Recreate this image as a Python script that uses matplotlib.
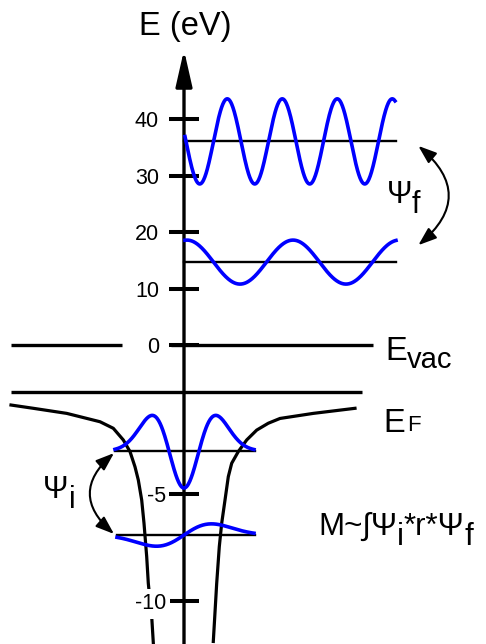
import numpy as np
import matplotlib
matplotlib.use('Agg')
import matplotlib.pyplot as plt
from matplotlib.patches import FancyArrowPatch

plt.rcParams['font.family'] = ['Liberation Sans', 'DejaVu Sans']

# energy axis is stretched below the vacuum level: eV -> page height (px from bottom)
E_knots = [-100, -12, -10, -5, 0, 200]
H_knots = [-1886.7, 0, 42.5, 149.7, 299, 1427]

def fwd(E):
    return np.interp(E, E_knots, H_knots)

def inv(h):
    return np.interp(h, H_knots, E_knots)

ticks = [-10, -5, 0, 10, 20, 30, 40]
tick_labels = ['-10', '-5', '0', '10', '20', '30', '40']

E_vac = 0.0
E_F = -1.58

# atomic potential well (x = distance from the nucleus, arbitrary units)
well_left_x = [-173, -150.7, -117.3, -84, -70.7, -60.7, -54, -49, -45.7, -42.3, -40, -37.3, -35.7, -32.3, -30.7]
well_left_E = [-2.01, -2.12, -2.29, -2.57, -2.79, -3.18, -3.57, -4.08, -4.52, -5.27, -6.35, -7.91, -9.15, -10.71, -11.94]
well_right_x = [171, 129.3, 96, 84.3, 72.7, 62.7, 54.3, 47.7, 44.3, 41, 37.7, 35.3, 32.7, 29.3]
well_right_E = [-2.12, -2.29, -2.46, -2.62, -2.85, -3.18, -3.57, -3.96, -4.41, -5.27, -6.35, -7.44, -9.15, -11.88]

# bound initial states: level, amplitude (eV)
init_levels = [-3.55, -6.90]
init_amps = [1.24, 0.86]
# free final states: level, amplitude (eV), wavelength
final_levels = [36.1, 14.7]
final_amps = [7.55, 3.9]
final_waves = [55, 106]


def text_run(x, E, pieces, size):
    # pieces: (string, vertical shift in points relative to the previous piece)
    t = ax.text(x, E, pieces[0][0], fontsize=size, ha='left', va='baseline')
    for s, dy in pieces[1:]:
        t = ax.annotate(s, xy=(1, 0), xycoords=t, xytext=(0, dy), textcoords='offset points',
                        fontsize=size, ha='left', va='bottom')
    return t


fig = plt.figure(figsize=(4.86, 6.44), dpi=100)
ax = fig.add_axes([0, 0, 1, 1])
ax.set_yscale('function', functions=(fwd, inv))
ax.set_xlim(-184, 302)
ax.set_ylim(-12, 61.17)
for s in ax.spines.values():
    s.set_visible(False)
ax.spines['left'].set_position(('data', 0))
ax.set_xticks([])
ax.set_yticks(ticks)
ax.set_yticklabels([])
ax.minorticks_off()
ax.tick_params(axis='y', direction='inout', length=21, width=2.9, color='k')
ax.set_axisbelow(False)

# energy axis with arrow
ax.annotate('', xy=(0, 52.3), xytext=(0, -12.5),
            arrowprops=dict(arrowstyle='-|>,head_length=2.2,head_width=0.5',
                            lw=2.4, color='k', shrinkA=0, shrinkB=0, mutation_scale=10))
ax.text(1.5, 54.96, 'E (eV)', fontsize=23.5, ha='center', va='baseline')

for t, lab in zip(ticks, tick_labels):
    xl = -18 if t < 0 else -25
    txt = ax.text(xl, t, lab, fontsize=15.5, ha='right', va='center_baseline', zorder=4)
    if t == -10:
        txt.set_bbox(dict(facecolor='white', edgecolor='none', pad=3))

# vacuum level and Fermi level
ax.plot([-173, -62], [E_vac, E_vac], color='k', lw=2.4, solid_capstyle='butt')
ax.plot([-13, 189], [E_vac, E_vac], color='k', lw=2.4, solid_capstyle='butt')
ax.plot([-173, 178], [E_F, E_F], color='k', lw=2.4, solid_capstyle='butt')

# potential well
ax.plot(well_left_x, well_left_E, color='k', lw=2.3, zorder=2)
ax.plot(well_right_x, well_right_E, color='k', lw=2.3, zorder=2)

# initial states
ax.plot([-69, 71], [init_levels[0]] * 2, color='k', lw=1.7)
ax.plot([-67, 71], [init_levels[1]] * 2, color='k', lw=1.7)
x = np.linspace(-69, 70, 300)
ax.plot(x, init_levels[0] + init_amps[0] * ((x / 15) ** 2 - 1) * np.exp(-(x / 28) ** 2),
        color='#0000ff', lw=2.6, zorder=3)
x = np.linspace(-67, 70, 300)
u = x / 27.5
ax.plot(x, init_levels[1] + init_amps[1] * u * np.exp(-0.5 * u ** 2),
        color='#0000ff', lw=2.6, zorder=3)

# final states
ax.plot([0, 212], [final_levels[0]] * 2, color='k', lw=1.7)
ax.plot([0, 212], [final_levels[1]] * 2, color='k', lw=1.7)
x = np.linspace(1, 211, 500)
ax.plot(x, final_levels[0] - final_amps[0] * np.sin(2 * np.pi * (x - 2) / final_waves[0]),
        color='#0000ff', lw=2.6, zorder=3)
x = np.linspace(1, 212, 500)
ax.plot(x, final_levels[1] + final_amps[1] * np.cos(2 * np.pi * (x - 3) / final_waves[1]),
        color='#0000ff', lw=2.6, zorder=3)

# double arrows between states
ax.add_patch(FancyArrowPatch((234.3, 35.3), (234.3, 17.7), arrowstyle='<|-|>,head_length=1.1,head_width=0.4',
                             connectionstyle='arc3,rad=-0.59', mutation_scale=10, lw=1.5, color='k',
                             shrinkA=0, shrinkB=0))
ax.add_patch(FancyArrowPatch((-70, -3.62), (-70, -6.85), arrowstyle='<|-|>,head_length=1.1,head_width=0.4',
                             connectionstyle='arc3,rad=0.57', mutation_scale=10, lw=1.5, color='k',
                             shrinkA=0, shrinkB=0))

# labels
text_run(201, -0.50, [('E', 0), ('vac', -5)], 23.5).set_fontsize(21)
text_run(199.3, -2.90, [('E', 0)], 23.5)
ax.text(222.7, -2.88, 'F', fontsize=16, ha='left', va='baseline')
text_run(202.7, 25.18, [('Ψ', 0), ('f', -7.5)], 22)
text_run(-140.7, -5.17, [('Ψ', 0), ('i', -7.5)], 22)
text_run(134, -6.90, [('M~∫Ψ', 0), ('i', -7.2), ('*r*Ψ', 7.2), ('f', -7.2)], 22.5)

fig.savefig('out.png', dpi=100)
